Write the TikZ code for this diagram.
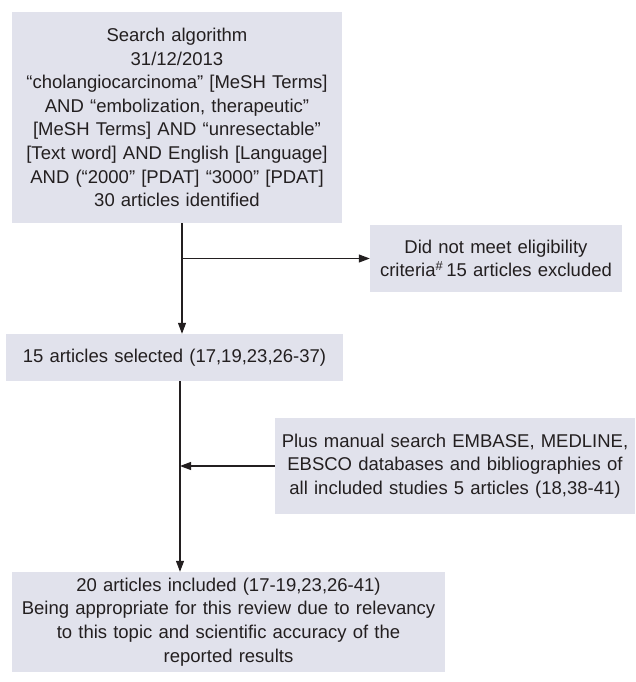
\documentclass[tikz,border=0pt]{standalone}
\usepackage{fontspec}
\setmainfont{Liberation Sans}
\usetikzlibrary{arrows.meta}
\definecolor{boxfill}{RGB}{225,226,236}
\definecolor{txt}{RGB}{35,31,32}
\begin{document}
\begin{tikzpicture}[x=1pt,y=-1pt,
  box/.style={fill=boxfill,draw=none,inner sep=0pt,align=center,text=txt,
    font=\fontsize{18.5}{23.6}\selectfont},
  arr/.style={draw=txt,line width=1.1pt,-{Triangle[length=11pt,width=8pt]}}]
\useasboundingbox (0,0) rectangle (635,682);
\node[box,minimum width=330pt,minimum height=211pt,text width=328pt] (b1) at (177,117.5)
 {Search algorithm\\31/12/2013\\“cholangiocarcinoma” [MeSH Terms]\\AND “embolization, therapeutic”\\{}[MeSH Terms] AND “unresectable”\\{}[Text word] AND English [Language]\\AND (“2000” [PDAT] “3000” [PDAT]\\30 articles identified};
\node[box,minimum width=252pt,minimum height=67pt,text width=250pt] (b2) at (496,258.5)
 {Did not meet eligibility\\criteria\textsuperscript{\#}\,15 articles excluded};
\node[box,minimum width=337pt,minimum height=47pt,text width=335pt] (b3) at (174.5,357.5)
 {15 articles selected (17,19,23,26-37)};
\node[box,minimum width=360pt,minimum height=96pt,text width=358pt] (b4) at (455,466)
 {Plus manual search EMBASE, MEDLINE,\\EBSCO databases and bibliographies of\\all included studies 5 articles (18,38-41)};
\node[box,minimum width=433pt,minimum height=100pt,text width=431pt] (b5) at (228.5,622)
 {20 articles included (17-19,23,26-41)\\Being appropriate for this review due to relevancy\\to this topic and scientific accuracy of the\\reported results};
\coordinate (vu) at (182,0);
\coordinate (vl) at (180,0);
\draw[arr] (vu |- b1.south) -- (vu |- b3.north);
\draw[arr] (vu |- b2.west) -- (b2.west);
\draw[arr] (vl |- b3.south) -- (vl |- b5.north);
\draw[arr] (b4.west) -- (vl |- b4.west);
\end{tikzpicture}
\end{document}
